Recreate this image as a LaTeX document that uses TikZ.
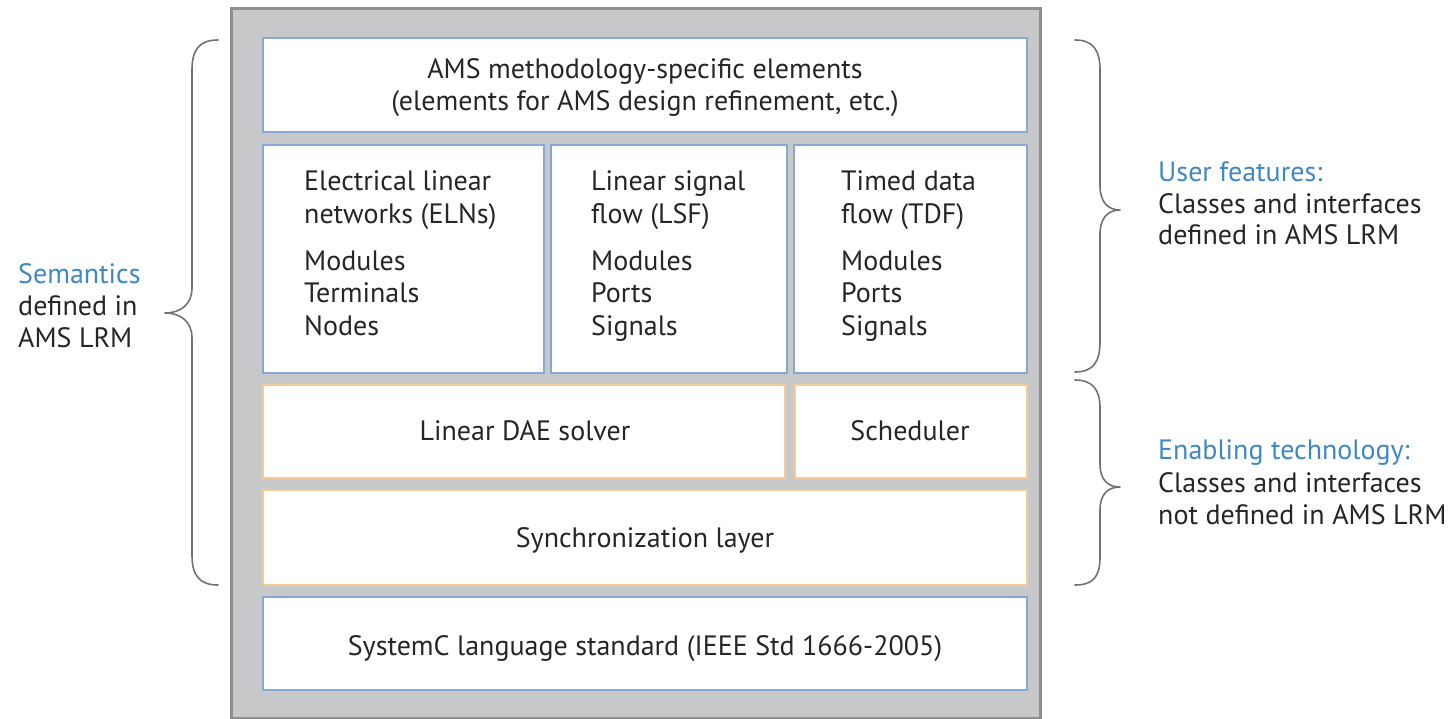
\documentclass[tikz,border=0pt]{standalone}
\usepackage{fontspec}
\setmainfont{PT Sans}
\definecolor{framegray}{HTML}{C7C8CA}
\definecolor{frameline}{HTML}{8E8F91}
\definecolor{layerblue}{HTML}{86A8D6}
\definecolor{layerorange}{HTML}{F6CB93}
\definecolor{headblue}{HTML}{3F88C8}
\definecolor{bodytext}{HTML}{262626}
\tikzset{
  layer/.style={draw=#1, line width=2pt, fill=white, inner sep=0pt, anchor=center},
  txt/.style={text=bodytext, inner sep=0pt, font=\fontsize{28}{32}\selectfont},
  lefttxt/.style={txt, anchor=base west},
  midtxt/.style={txt, anchor=base},
  headtxt/.style={lefttxt, text=headblue},
  bracket/.style={draw=frameline!80!black, line width=1.6pt, line cap=round, line join=round},
}
\begin{document}
\begin{tikzpicture}[x=1pt,y=-1pt]
\useasboundingbox (0,0) rectangle (1452,718);

% outer frame of the stack
\node[draw=frameline, fill=framegray, line width=3pt, minimum width=809pt, minimum height=710pt, inner sep=0pt] (frame) at (635.5,363) {};

% layers
\node[layer=layerblue, minimum width=764pt, minimum height=94pt] (ams) at (645,85) {};
\node[layer=layerblue, minimum width=281pt, minimum height=228pt] (eln) at (403.5,259) {};
\node[layer=layerblue, minimum width=236pt, minimum height=228pt] (lsf) at (669,259) {};
\node[layer=layerblue, minimum width=233pt, minimum height=228pt] (tdf) at (910.5,259) {};
\node[layer=layerorange, minimum width=522pt, minimum height=93pt] (dae) at (524,431.5) {};
\node[layer=layerorange, minimum width=232pt, minimum height=93pt] (sched) at (911,431.5) {};
\node[layer=layerorange, minimum width=764pt, minimum height=95pt] (sync) at (645,537.5) {};
\node[layer=layerblue, minimum width=764pt, minimum height=93pt] (sysc) at (645,643.5) {};

% layer texts
\node[midtxt] (ams1) at (645,78) {AMS methodology-specific elements};
\node[midtxt] (ams2) at (645,110) {(elements for AMS design refinement, etc.)};

\node[lefttxt] (eln1) at (304,190) {Electrical linear};
\node[lefttxt] (eln2) at (304,223) {networks (ELNs)};
\node[lefttxt] (eln3) at (304,270) {Modules};
\node[lefttxt] (eln4) at (304,302) {Terminals};
\node[lefttxt] (eln5) at (304,335) {Nodes};

\node[lefttxt] (lsf1) at (591,190) {Linear signal};
\node[lefttxt] (lsf2) at (591,223) {flow (LSF)};
\node[lefttxt] (lsf3) at (591,270) {Modules};
\node[lefttxt] (lsf4) at (591,302) {Ports};
\node[lefttxt] (lsf5) at (591,335) {Signals};

\node[lefttxt] (tdf1) at (841,190) {Timed data};
\node[lefttxt] (tdf2) at (841,223) {flow (TDF)};
\node[lefttxt] (tdf3) at (841,270) {Modules};
\node[lefttxt] (tdf4) at (841,302) {Ports};
\node[lefttxt] (tdf5) at (841,335) {Signals};

\node[midtxt] (daet) at (525,440) {Linear DAE solver};
\node[midtxt] (schedt) at (910,440) {Scheduler};
\node[midtxt] (synct) at (645,547) {Synchronization layer};
\node[midtxt] (sysct) at (645,655) {SystemC language standard (IEEE Std 1666-2005)};

% left brace
\draw[bracket] (218,40) .. controls (199,40) and (192,50) .. (192,70)
  -- (192,288) .. controls (192,304) and (181,313) .. (165,313)
  .. controls (181,313) and (192,322) .. (192,338)
  -- (192,555) .. controls (192,575) and (199,585) .. (218,585);
\node[headtxt] (sem1) at (18,283) {Semantics};
\node[lefttxt] (sem2) at (18,315) {defined in};
\node[lefttxt] (sem3) at (18,347) {AMS LRM};

% right braces
\draw[bracket] (1075,40) .. controls (1093,40) and (1100,50) .. (1100,70)
  -- (1100,186) .. controls (1100,202) and (1108,210) .. (1120,210)
  .. controls (1108,210) and (1100,218) .. (1100,234)
  -- (1100,342) .. controls (1100,362) and (1093,372) .. (1075,372);
\draw[bracket] (1075,380) .. controls (1093,380) and (1100,390) .. (1100,408)
  -- (1100,464) .. controls (1100,480) and (1108,487) .. (1120,487)
  .. controls (1108,487) and (1100,494) .. (1100,510)
  -- (1100,557) .. controls (1100,577) and (1093,585) .. (1075,585);

\node[headtxt] (uf1) at (1158,181) {User features:};
\node[lefttxt] (uf2) at (1158,213) {Classes and interfaces};
\node[lefttxt] (uf3) at (1158,244) {defined in AMS LRM};

\node[headtxt] (et1) at (1158,459) {Enabling technology:};
\node[lefttxt] (et2) at (1158,492) {Classes and interfaces};
\node[lefttxt] (et3) at (1158,524) {not defined in AMS LRM};
\end{tikzpicture}
\end{document}
